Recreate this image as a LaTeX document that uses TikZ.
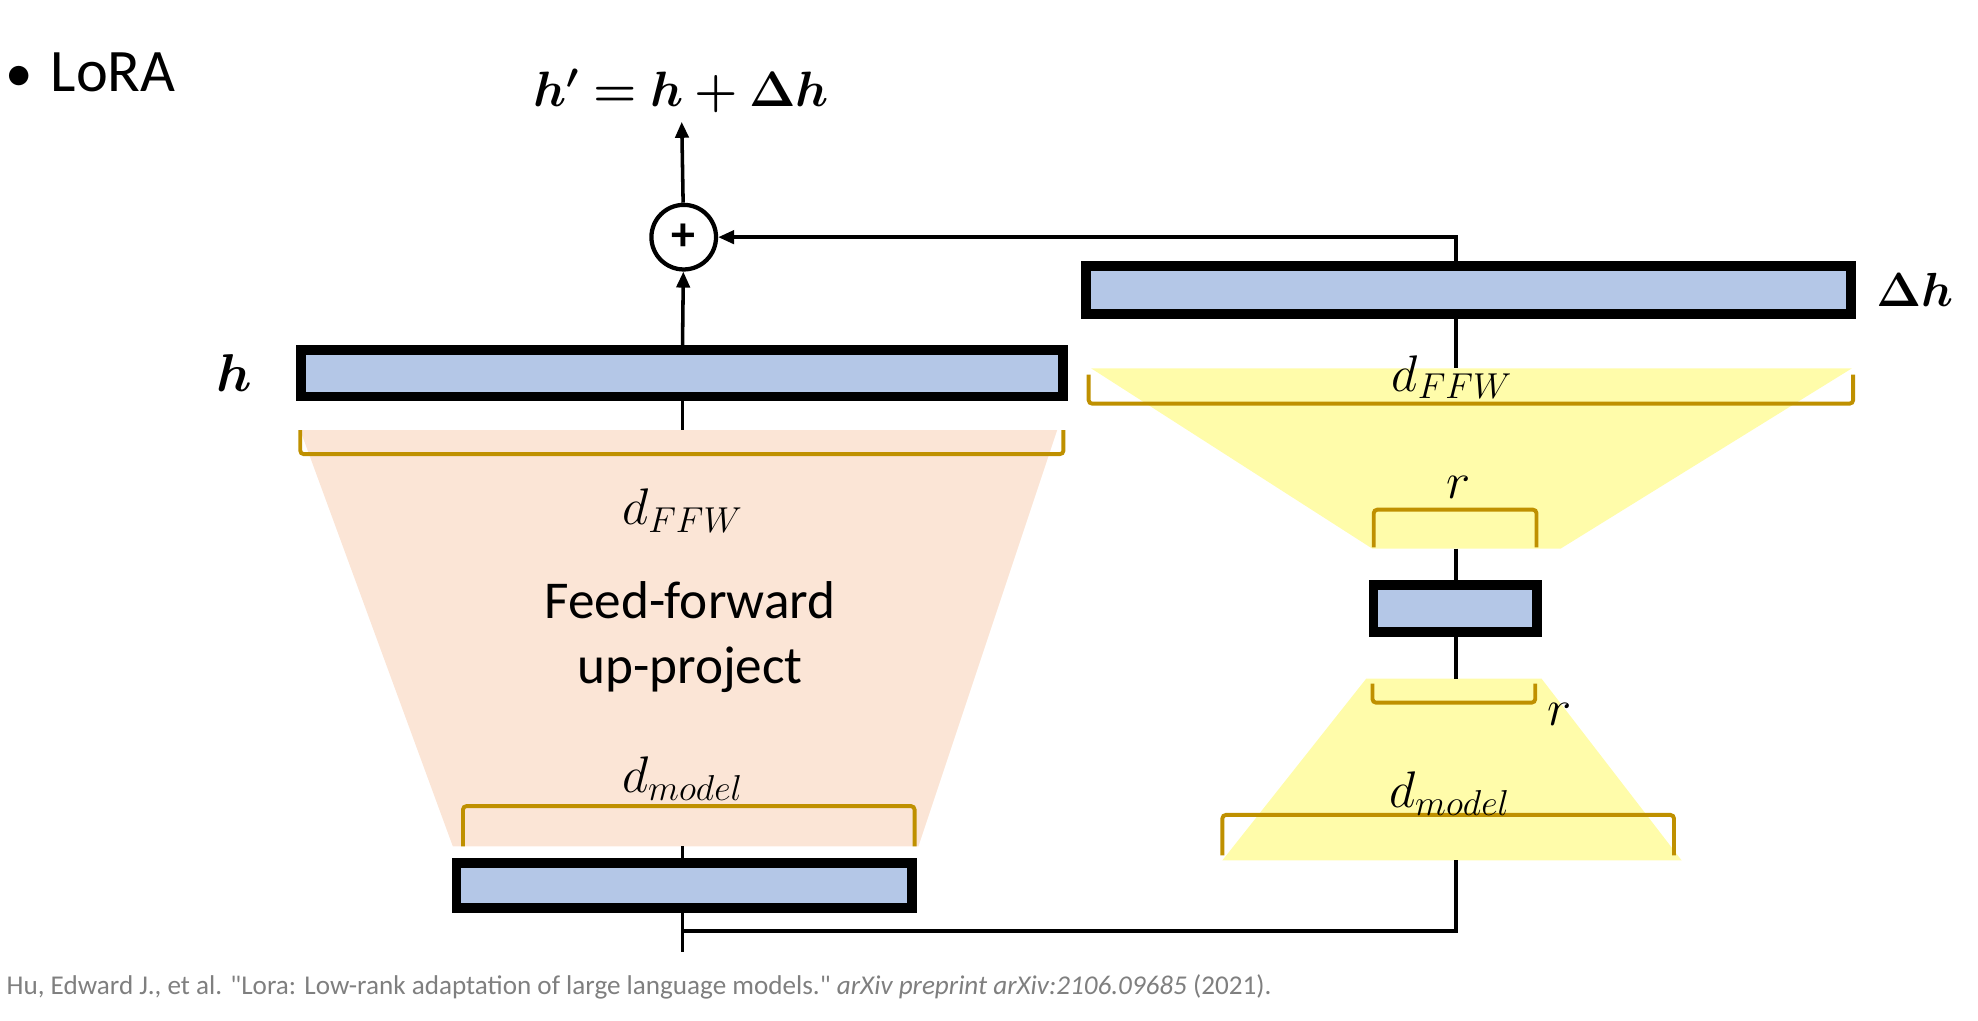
\RequirePackage{fix-cm}
\documentclass[tikz,border=0pt]{standalone}
\usepackage{fontspec}
\usepackage{bm}
\newfontfamily\slidefont{Carlito}
\usetikzlibrary{positioning, arrows.meta}
\definecolor{vecblue}{HTML}{B4C7E7}
\definecolor{ffnpink}{HTML}{FBE5D6}
\definecolor{lorayellow}{HTML}{FFFCAA}
\definecolor{braceamber}{HTML}{BF9000}
\definecolor{citegray}{HTML}{7F7F7F}
\tikzset{
    vecbox/.style={draw=black, line width=5.5pt, fill=vecblue, inner sep=0pt, outer sep=0pt},
    widebox/.style={vecbox, minimum width=15.1cm, minimum height=0.92cm},
    link/.style={line width=2pt},
    dimbrace/.style={draw=braceamber, line width=2.2pt, rounded corners=2pt},
    dimlabel/.style={inner sep=0pt, font=\fontsize{29}{34}\selectfont},
    veclabel/.style={inner sep=0pt, font=\fontsize{30}{36}\selectfont}
}
\begin{document}
\begin{tikzpicture}[x=0.025cm, y=-0.025cm, >={Triangle[length=9pt, width=7.5pt]}]
  \useasboundingbox (0,0) rectangle (1568,809);
  \coordinate (lcol) at (541,0);
  \coordinate (rcol) at (1154,0);
  % shaded projections
  \coordinate (pk1) at (238,341);
  \coordinate (pk2) at (838,341);
  \coordinate (pk3) at (728,671);
  \coordinate (pk4) at (359,671);
  \coordinate (uy1) at (865,292);
  \coordinate (uy2) at (1468,292);
  \coordinate (uy3) at (1237,435);
  \coordinate (uy4) at (1088,435);
  \coordinate (ly1) at (1083,538);
  \coordinate (ly2) at (1222,538);
  \coordinate (ly3) at (1333,682);
  \coordinate (ly4) at (969,682);
  \fill[ffnpink] (pk1)--(pk2)--(pk3)--(pk4)--cycle;
  \fill[lorayellow] (uy1)--(uy2)--(uy3)--(uy4)--cycle;
  \fill[lorayellow] (ly1)--(ly2)--(ly3)--(ly4)--cycle;
  % vectors
  \node(hbox)[widebox] at (540.5,296){};
  \node(dhbox)[widebox, minimum width=15.15cm, minimum height=0.95cm] at (1164,230){};
  \node(rbox)[vecbox, minimum width=3.23cm, minimum height=0.93cm] at (1153.5,482.5){};
  \node(inbox)[vecbox, minimum width=9.03cm, minimum height=0.9cm] at (542.5,702){};
  \node(plus)[circle, draw, line width=2.4pt, minimum size=1.28cm, inner sep=0pt, font=\slidefont\bfseries\fontsize{27}{27}\selectfont] at (542,188){+};
  \node(out)[veclabel, inner sep=5pt, font=\fontsize{28}{34}\selectfont] at (540,72){$\bm{h' = h + \Delta h}$};
  \node(hlab)[veclabel, left=0.95cm of hbox]{$\bm{h}$};
  \node(dhlab)[veclabel, right=0.5cm of dhbox, font=\fontsize{27}{32}\selectfont]{$\bm{\Delta h}$};
  % dimensions
  \draw[dimbrace](238,341) |- (843,360) -- (843,341);
  \draw[dimbrace](367,671) |- (725,639) -- (725,671);
  \draw[dimbrace](863,297) |- (1469,320) -- (1469,297);
  \draw[dimbrace](1089,434) |- (1218,404) -- (1218,434);
  \draw[dimbrace](1088,542) |- (1217,557) -- (1217,542);
  \draw[dimbrace](969,678) |- (1327,646) -- (1327,678);
  \node(ffwL)[dimlabel] at (541,405){$d_{FFW}$};
  \node(modL)[dimlabel] at (541,617){$d_{model}$};
  \node(ffwR)[dimlabel] at (1151,299){$d_{FFW}$};
  \node(rU)[dimlabel] at (1156,386){$r$};
  \node(rL)[dimlabel] at (1236,566){$r$};
  \node(modR)[dimlabel] at (1149,629){$d_{model}$};
  \node(ffn)[align=center, font=\slidefont\fontsize{30}{37}\selectfont] at (547,505){Feed-forward\\up-project};
  % slide text
  \node(title)[anchor=west, inner sep=0pt, font=\slidefont\fontsize{34}{40}\selectfont] at (4,57){{\fontsize{31}{31}\selectfont\textbullet}\hspace{0.3em}LoRA};
  \node(cite)[anchor=west, inner sep=0pt, text=citegray, font=\slidefont\fontsize{15.3}{18}\selectfont] at (5,782){Hu, Edward J., et al. "Lora: Low-rank adaptation of large language models." \textit{arXiv preprint arXiv:2106.09685} (2021).};
  % connectors
  \coordinate(tail) at (541,755);
  \coordinate(split) at (541,738);
  \draw[link,->](hbox.north -| lcol) -- (plus);
  \draw[link,->](plus) -- (out);
  \draw[link,->](dhbox.north -| rcol) |- (plus);
  \draw[link](hbox.south -| lcol) -- (lcol |- pk1);
  \draw[link](lcol |- pk4) -- (lcol |- inbox.north);
  \draw[link](lcol |- inbox.south) -- (tail);
  \draw[link](rcol |- ly4) |- (split);
  \draw[link](rcol |- dhbox.south) -- (rcol |- uy1);
  \draw[link](rcol |- uy4) -- (rcol |- rbox.north);
  \draw[link](rcol |- rbox.south) -- (rcol |- ly1);
\end{tikzpicture}
\end{document}
